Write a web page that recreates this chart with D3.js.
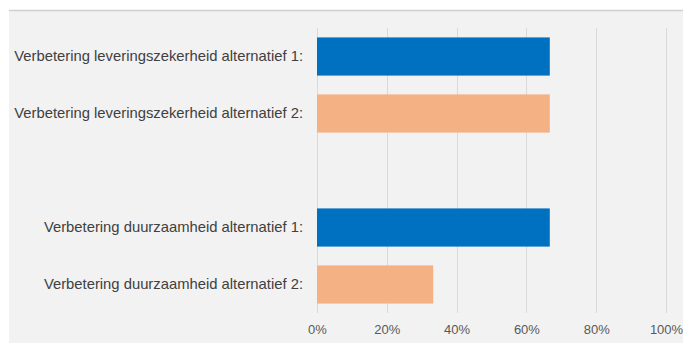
<!DOCTYPE html>
<html><head><meta charset="utf-8">
<script src="https://cdn.jsdelivr.net/npm/d3@7"></script>
<style>html,body{margin:0;padding:0;background:#fff;overflow:hidden}</style>
</head><body>
<svg id="c" width="683" height="343"></svg>
<script>
const categories = [
  "Verbetering leveringszekerheid alternatief 1:",
  "Verbetering leveringszekerheid alternatief 2:",
  "",
  "Verbetering duurzaamheid alternatief 1:",
  "Verbetering duurzaamheid alternatief 2:"
];
const values = [0.667, 0.667, null, 0.667, 0.333];
const barColors = ["#0070c0", "#f4b183", null, "#0070c0", "#f4b183"];
const tickValues = [0, 0.2, 0.4, 0.6, 0.8, 1.0];

const svg = d3.select("#c");
svg.append("rect").attr("x", 9).attr("y", 10).attr("width", 674).attr("height", 333).attr("fill", "#f2f2f2");
svg.append("line").attr("x1", 9).attr("x2", 683).attr("y1", 10.5).attr("y2", 10.5).attr("stroke", "#cfcfcf").attr("stroke-width", 1.5);

const x = d3.scaleLinear().domain([0, 1]).range([317, 666]);
const y = d3.scaleBand().domain(d3.range(categories.length)).range([28, 313]).paddingInner(0.33).paddingOuter(0.165);

const grid = svg.append("g");
grid.selectAll("line").data(tickValues).join("line")
  .attr("x1", d => Math.round(x(d)) + 0.5).attr("x2", d => Math.round(x(d)) + 0.5)
  .attr("y1", 28).attr("y2", 313)
  .attr("stroke", "#d9d9d9").attr("stroke-width", 1);

svg.append("g").selectAll("rect").data(values.map((v, i) => ({v, i})).filter(d => d.v != null)).join("rect")
  .attr("x", x(0)).attr("y", d => y(d.i))
  .attr("width", d => x(d.v) - x(0)).attr("height", y.bandwidth())
  .attr("fill", d => barColors[d.i]);

const xAxis = d3.axisBottom(x).tickValues(tickValues).tickFormat(d3.format(".0%")).tickSize(0).tickPadding(0);
const ga = svg.append("g").attr("transform", "translate(0,325)").call(xAxis);
ga.select(".domain").remove();
ga.selectAll("text").attr("fill", "#595959").style("font-family", "'Liberation Sans',Arial,sans-serif").style("font-size", "13px");

const yAxis = d3.axisLeft(y).tickFormat(i => categories[i]).tickSize(0).tickPadding(0);
const gy = svg.append("g").attr("transform", "translate(303,0)").call(yAxis);
gy.select(".domain").remove();
gy.selectAll("text").attr("fill", "#404040").style("font-family", "'Liberation Sans',Arial,sans-serif").style("font-size", "14.8px");
</script>
</body></html>
